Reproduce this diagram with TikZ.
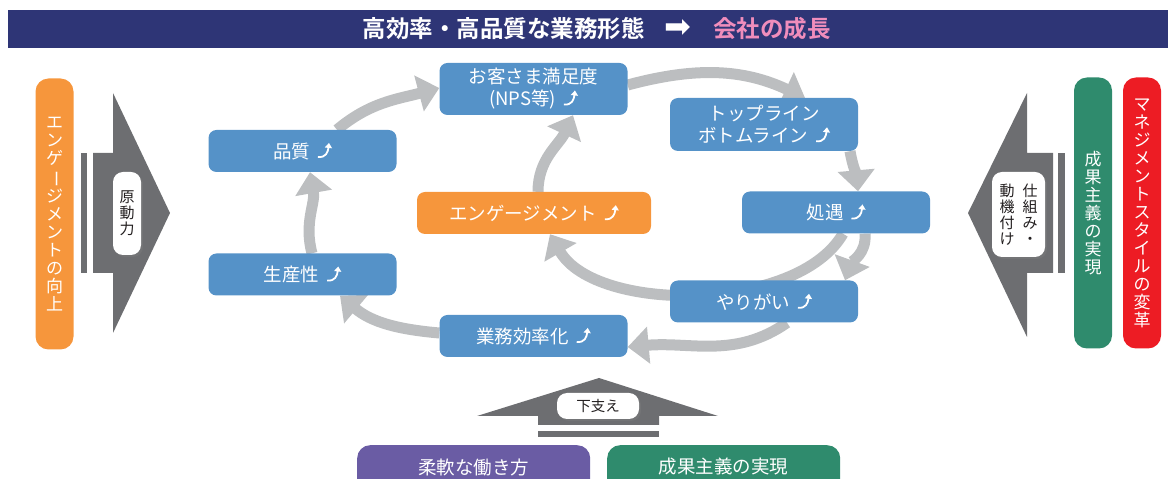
\documentclass[tikz,border=0pt]{standalone}
\usepackage{fontspec}
\newfontfamily\jp{Noto Sans CJK JP}[BoldFont={* Bold}]
\newfontfamily\tate{Noto Sans CJK JP}
\newfontfamily\sym{DejaVu Sans}
\usetikzlibrary{arrows.meta,shadows,backgrounds,positioning}

\definecolor{titlenavy}{HTML}{2E3576}
\definecolor{titlepink}{HTML}{F08DBC}
\definecolor{boxblue}{HTML}{5592C8}
\definecolor{boxorange}{HTML}{F6963C}
\definecolor{bargreen}{HTML}{2F8B6D}
\definecolor{barred}{HTML}{ED1C24}
\definecolor{barpurple}{HTML}{6A5CA4}
\definecolor{darkgrey}{HTML}{6D6E71}
\definecolor{lightgrey}{HTML}{BCBEC0}
\definecolor{labeltext}{HTML}{231F20}

\newcommand{\up}{\hspace{7pt}\tikz[baseline=-1.5pt,x=1pt,y=1pt]\draw[white,line width=1.8pt,-{Triangle[length=5pt,width=7pt]}] (0,0) .. controls (8,-1) and (10,5) .. (11,14);}
\newcommand{\vbar}{\rotatebox[origin=c]{-90}{ー}}

\tikzset{
	box/.style={rectangle,rounded corners=8pt,fill=boxblue,text=white,minimum width=188pt,minimum height=42pt,align=center,font=\jp\fontsize{18.5}{22}\selectfont,inner sep=0pt},
	sidebar/.style={rectangle,rounded corners=13pt,text=white,minimum width=38pt,minimum height=271pt,align=center,font=\tate\fontsize{17}{18}\selectfont,inner sep=0pt},
	footbox/.style={rectangle,rounded corners=13pt,text=white,minimum width=233pt,minimum height=60pt,inner sep=0pt},
	tag/.style={rectangle,rounded corners=10pt,fill=white,text=labeltext,inner sep=0pt,drop shadow={shadow xshift=2pt,shadow yshift=-2pt,opacity=0.35}},
	tagtext/.style={text=labeltext,align=center,font=\tate\fontsize{15}{16}\selectfont,inner sep=0pt},
	cyclearrow/.style={line width=11pt,draw=lightgrey,-{Triangle[length=21pt,width=36pt]}}
}

\begin{document}
\begin{tikzpicture}[x=1pt,y=1pt]
	\useasboundingbox (0,0) rectangle (1176,479);

	\fill[titlenavy] (8,431) rectangle (1168,469);
	\node[text=white,font=\jp\bfseries\fontsize{23.5}{24}\selectfont,anchor=east,inner sep=0pt] (titlel) at (645,450) {高効率・高品質な業務形態};
	\node[text=white,font=\sym\fontsize{32}{32}\selectfont,inner sep=0pt] (titlearrow) at (678,450) {➡};
	\node[text=titlepink,font=\jp\bfseries\fontsize{23.5}{24}\selectfont,anchor=west,inner sep=0pt] (titler) at (713,450) {会社の成長};

	\node[box] (cs) at (533.5,390) [minimum height=52pt] {お客さま満足度\\(NPS等)\up};
	\node[box] (quality) at (302.5,328) {品質\up};
	\node[box] (prod) at (302.5,204.5) {生産性\up};
	\node[box,fill=boxorange,minimum width=234pt] (engage) at (534,266) {エンゲージメント\up};
	\node[box] (eff) at (533.5,143) {業務効率化\up};
	\node[box,minimum height=53pt] (topline) at (764,354.5) {トップライン\\ボトムライン\up};
	\node[box] (treat) at (836,266.5) {処遇\up};
	\node[box] (yarigai) at (764,177.5) {やりがい\up};

	\begin{scope}[on background layer]
		\draw[cyclearrow] ([xshift=34.5pt]quality.north) to[out=40,in=195] ([yshift=1pt]cs.west);
		\draw[cyclearrow] ([yshift=4pt]cs.east) to[out=15,in=155] ([xshift=41pt]topline.north);
		\draw[cyclearrow] ([xshift=86pt]topline.south) to[out=-80,in=95] ([xshift=22pt]treat.north);
		\draw[cyclearrow] ([xshift=29pt]treat.south) to[out=-85,in=70] ([xshift=81pt]yarigai.north);
		\draw[cyclearrow] ([xshift=7pt]treat.south) to[out=-120,in=-60,looseness=0.8] ([xshift=16pt]engage.south);
		\draw[cyclearrow] ([xshift=23pt]yarigai.south) to[out=-145,in=5] ([yshift=-11pt]eff.east);
		\draw[cyclearrow] ([yshift=3pt]eff.west) to[out=175,in=-40] ([xshift=37.5pt]prod.south);
		\draw[cyclearrow] ([xshift=9.5pt]prod.north) to[out=105,in=-80] ([xshift=7.5pt]quality.south);
		\draw[cyclearrow] ([xshift=4pt]engage.north) to[out=90,in=-115] ([xshift=39.5pt]cs.south);
	\end{scope}

	\node[sidebar,fill=boxorange] (engbar) at (54.5,265) {エ\\ン\\ゲ\\\vbar\\ジ\\メ\\ン\\ト\\の\\向\\上};
	\fill[darkgrey] (81,206) rectangle (87,326);
	\fill[darkgrey] (93,206) -- (113,206) -- (113,146) -- (170,266) -- (113,386) -- (113,326) -- (93,326) -- cycle;
	\node[tag,minimum width=28pt,minimum height=83pt] (drive) at (127,265.5) {};
	\node[tagtext] (drivetxt) at (drive.center) {原\\動\\力};

	\node[sidebar,fill=bargreen] (resultbar) at (1093,266) {成\\果\\主\\義\\の\\実\\現};
	\node[sidebar,fill=barred] (mgmtbar) at (1142,266) {マ\\ネ\\ジ\\メ\\ン\\ト\\ス\\タ\\イ\\ル\\の\\変\\革};
	\fill[darkgrey] (1058,206) rectangle (1065,326);
	\fill[darkgrey] (1053,206) -- (1027,206) -- (1027,142) -- (968,266) -- (1027,386) -- (1027,326) -- (1053,326) -- cycle;
	\node[tag,minimum width=53pt,minimum height=85pt] (motive) at (1018.5,264.5) {};
	\node[tagtext] (motivel) at ([xshift=-11.5pt]motive.center) {動\\機\\付\\け};
	\node[tagtext] (motiver) at ([xshift=11.5pt]motive.center) {仕\\組\\み\\・};

	\fill[darkgrey] (538,42) rectangle (659,48);
	\fill[darkgrey] (538,54) -- (659,54) -- (659,63) -- (718,63) -- (599,101) -- (477,63) -- (538,63) -- cycle;
	\node[tag,minimum width=82pt,minimum height=26pt,font=\jp\fontsize{14.5}{15}\selectfont] (support) at (598,73) {下支え};

	\begin{scope}
		\clip (0,0) rectangle (1176,479);
		\node[footbox,fill=barpurple,anchor=north west] (flexbox) at (357,34) {};
		\node[footbox,fill=bargreen,anchor=north west] (resultbox) at (607,34) {};
	\end{scope}
	\node[text=white,font=\jp\fontsize{18.5}{18}\selectfont] (flextxt) at ([yshift=-22pt]flexbox.north) {柔軟な働き方};
	\node[text=white,font=\jp\fontsize{18.5}{18}\selectfont] (resulttxt) at ([yshift=-22pt]resultbox.north) {成果主義の実現};
\end{tikzpicture}
\end{document}
